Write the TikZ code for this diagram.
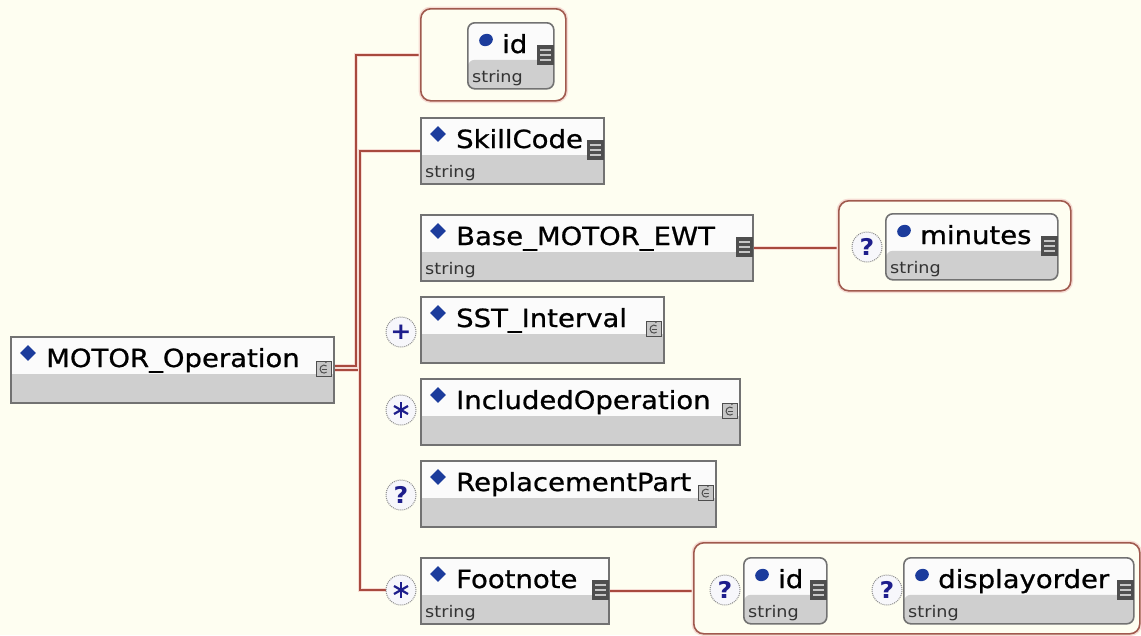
\documentclass[tikz,border=0pt]{standalone}
\usepackage{fontspec}
\setmainfont{DejaVu Sans}[FakeStretch=1.1]
\newfontfamily\titlefont{DejaVu Sans}[FakeStretch=1.1, FakeBold=0.8]
\usetikzlibrary{shapes.geometric}

\definecolor{canvas}{HTML}{FEFEF1}
\definecolor{elborder}{HTML}{727272}
\definecolor{elwhite}{HTML}{FBFBFB}
\definecolor{elgray}{HTML}{CFCFCF}
\definecolor{markblue}{HTML}{1C3C9C}
\definecolor{connred}{HTML}{A84A3E}
\definecolor{connhalo}{HTML}{F6DCD4}
\definecolor{grpred}{HTML}{A05A4E}
\definecolor{icondark}{HTML}{4E4E4E}
\definecolor{iconlight}{HTML}{C6C6C6}
\definecolor{occline}{HTML}{8C8C8C}
\definecolor{occfill}{HTML}{F7F7FB}
\definecolor{occblue}{HTML}{1E1E8C}
\definecolor{typtext}{HTML}{333333}

\pgfdeclarelayer{under}
\pgfsetlayers{under,main}

% element box: white header, grey type band
\newcommand\xsdelem[6]{% name, left, top, width, title, icon style
  \node[elbox, minimum width=#4pt] (#1) at (#2,#3) {};
  \node[eldiamond] (#1-d) at ([xshift=18pt,yshift=-17pt]#1.north west) {};
  \node[title] (#1-t) at ([xshift=36pt,yshift=-31pt]#1.north west) {#5};
  \node[#6] (#1-i) at ([yshift=-33pt]#1.north east) {};
}
\newcommand\xsdtype[2]{% name, type
  \node[typ] (#1-s) at ([xshift=5pt,yshift=-60pt]#1.north west) {#2};
}
% attribute box: rounded, round blue marker
\newcommand\xsdattr[5]{% name, left, top, width, title
  \node[attbox, minimum width=#4pt] (#1) at (#2,#3) {};
  \node[atdot] (#1-d) at ([xshift=19pt,yshift=-18pt]#1.north west) {};
  \node[title] (#1-t) at ([xshift=35pt,yshift=-31pt]#1.north west) {#5};
  \node[typ] (#1-s) at ([xshift=5pt,yshift=-60pt]#1.north west) {string};
  \node[simpicon] (#1-i) at ([yshift=-33pt]#1.north east) {};
}

\begin{document}
\begin{tikzpicture}[x=1pt,y=-1pt,
  elbox/.style={draw=elborder, line width=1.6pt, fill=elwhite, inner sep=0pt,
    anchor=north west, minimum height=66pt,
    path picture={\fill[elgray] ([yshift=-37pt]path picture bounding box.north west)
      rectangle (path picture bounding box.south east);}},
  attbox/.style={elbox, rounded corners=7pt},
  title/.style={anchor=base west, inner sep=0pt, text=black,
    font=\titlefont\fontsize{25}{28}\selectfont},
  typ/.style={anchor=base west, inner sep=0pt, text=typtext,
    font=\fontsize{16}{19}\selectfont},
  eldiamond/.style={diamond, fill=markblue, inner sep=0pt,
    minimum width=16pt, minimum height=16pt},
  atdot/.style={ellipse, fill=markblue, inner sep=0pt,
    minimum width=14pt, minimum height=12pt, rotate=25},
  simpicon/.style={rectangle, fill=icondark, inner sep=0pt, anchor=east,
    xshift=-0.5pt, minimum width=17pt, minimum height=20pt,
    path picture={
      \foreach \k in {5,10,15}
        \draw[iconlight, line width=2pt]
          ([xshift=3pt,yshift=-\k pt]path picture bounding box.north west)
          -- ++(11,0);}},
  cplxicon/.style={rectangle, fill=iconlight, draw=icondark, line width=1pt,
    inner sep=0pt, anchor=east, xshift=-3pt, minimum size=15pt,
    path picture={
      \draw[icondark, line width=1pt]
        ([shift={(3pt,3pt)}]path picture bounding box.center)
        arc[start angle=50, end angle=310, radius=4pt];
      \draw[icondark, line width=0.9pt]
        ([shift={(-2pt,0pt)}]path picture bounding box.center) -- ++(5,0);
      \draw[icondark, line width=0.9pt]
        ([shift={(2pt,6pt)}]path picture bounding box.center) -- ++(2,-3);}},
  occ/.style={circle, draw=occline, densely dotted, line width=1pt,
    fill=occfill, minimum size=30pt, inner sep=0pt, text=occblue,
    font=\bfseries\fontsize{23}{23}\selectfont},
  asterisk6/.style={path picture={
      \draw[occblue, line width=2.2pt, solid]
        ([shift={(0pt,8pt)}]path picture bounding box.center)
        -- ([shift={(0pt,-8pt)}]path picture bounding box.center);
      \draw[occblue, line width=2.2pt, solid]
        ([shift={(-7pt,4pt)}]path picture bounding box.center)
        -- ([shift={(7pt,-4pt)}]path picture bounding box.center);
      \draw[occblue, line width=2.2pt, solid]
        ([shift={(-7pt,-4pt)}]path picture bounding box.center)
        -- ([shift={(7pt,4pt)}]path picture bounding box.center);}},
  grp/.style={draw=grpred, line width=1.6pt, rounded corners=10pt,
    fill=canvas, inner sep=0pt, anchor=north west,
    preaction={draw=connhalo, line width=4.5pt}},
  conn/.style={draw=connred, line width=2pt,
    preaction={draw=connhalo, line width=4.5pt}}
]
\useasboundingbox (0,0) rectangle (1141,635);
\begin{pgfonlayer}{under}
  \fill[canvas] (0,0) rectangle (1141,635);
\end{pgfonlayer}

% attribute groups
\node[grp, minimum width=145pt, minimum height=92pt] (g1) at (420,8) {};
\node[grp, minimum width=232pt, minimum height=90pt] (g2) at (838,200) {};
\node[grp, minimum width=446pt, minimum height=91pt] (g3) at (693,542) {};

% root element
\xsdelem{mo}{10}{336}{323}{MOTOR\_Operation}{cplxicon}

% child elements
\xsdelem{sk}{420}{117}{183}{SkillCode}{simpicon}
\xsdtype{sk}{string}
\xsdelem{base}{420}{214}{332}{Base\_MOTOR\_EWT}{simpicon}
\xsdtype{base}{string}
\xsdelem{sst}{420}{296}{243}{SST\_Interval}{cplxicon}
\xsdelem{inc}{420}{378}{319}{IncludedOperation}{cplxicon}
\xsdelem{rep}{420}{460}{295}{ReplacementPart}{cplxicon}
\xsdelem{fn}{420}{557}{188}{Footnote}{simpicon}
\xsdtype{fn}{string}

% attributes
\xsdattr{ida}{467}{22}{86}{id}
\xsdattr{min}{885}{213}{172}{minutes}
\xsdattr{idb}{743}{557}{83}{id}
\xsdattr{disp}{903}{557}{230}{displayorder}

% occurrence markers
\node[occ] (c-sst) at (401,332) {+};
\node[occ, asterisk6] (c-inc) at (401,410) {};
\node[occ] (c-rep) at (401,495) {?};
\node[occ, asterisk6] (c-fn) at (401,590) {};
\node[occ] (c-min) at (867,247) {?};
\node[occ] (c-idb) at (725,590) {?};
\node[occ] (c-disp) at (887,590) {?};

% rails of the two branches
\coordinate (attrail) at (356,200);
\coordinate (seqrail) at (360,590);

\begin{pgfonlayer}{under}
  \draw[conn] ([yshift=4pt]mo.east) -| (attrail) |- (g1.west);
  \draw[conn] (mo.east) -- (mo.east -| seqrail);
  \draw[conn] (sk.west) -| (seqrail) -- (c-fn.west);
  \draw[conn] (base.east) -- (base.east -| g2.west);
  \draw[conn] (fn.east) -- (fn.east -| g3.west);
\end{pgfonlayer}
\end{tikzpicture}
\end{document}
